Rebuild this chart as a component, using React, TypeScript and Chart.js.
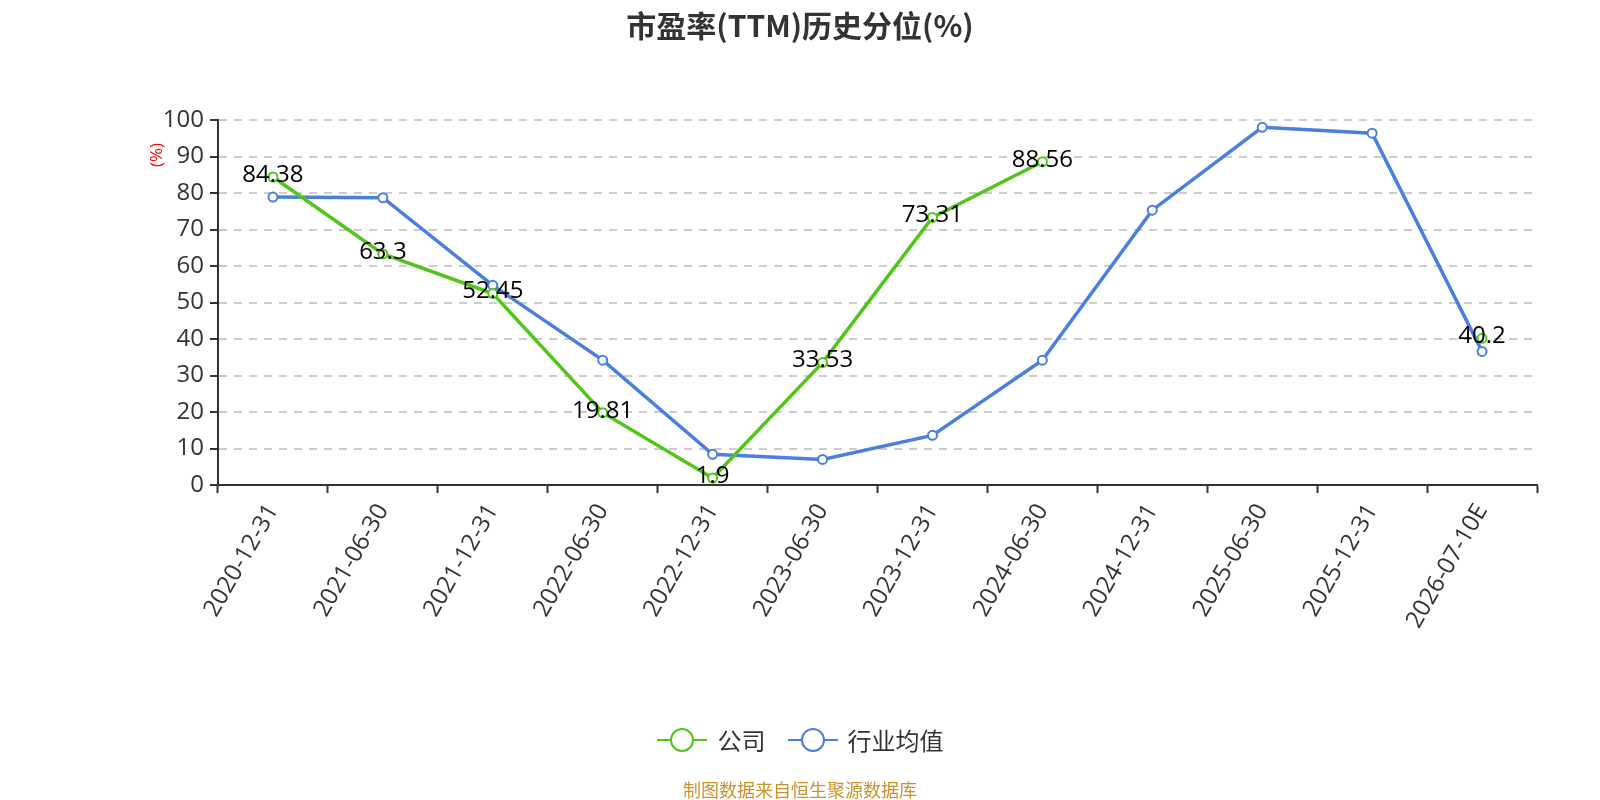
import { useEffect, useRef } from "react"
import { Chart, registerables } from "chart.js"

Chart.register(...registerables)

const categories = [
  "2020-12-31", "2021-06-30", "2021-12-31", "2022-06-30", "2022-12-31", "2023-06-30",
  "2023-12-31", "2024-06-30", "2024-12-31", "2025-06-30", "2025-12-31", "2026-07-10E",
]
const companyValues = [84.38, 63.3, 52.45, 19.81, 1.9, 33.53, 73.31, 88.56, null, null, null, 40.2]
const industryValues = [78.9, 78.7, 54.7, 34.2, 8.4, 7.0, 13.6, 34.2, 75.3, 98.0, 96.4, 36.6]
const yTicks = [0, 10, 20, 30, 40, 50, 60, 70, 80, 90, 100]

const GREEN = "#52C41A"
const BLUE = "#4A7FDE"
const FONT = "'Open Sans', 'Noto Sans CJK SC', sans-serif"
const CJK = "'Noto Sans CJK SC', sans-serif"

// value labels drawn centred on the points of the company line
const valueLabels = {
  id: "valueLabels",
  afterDatasetsDraw(chart) {
    const ctx = chart.ctx
    const meta = chart.getDatasetMeta(0)
    ctx.save()
    ctx.font = `24px ${FONT}`
    ctx.fillStyle = "#000"
    ctx.textAlign = "center"
    ctx.textBaseline = "middle"
    meta.data.forEach((pt, i) => {
      const v = companyValues[i]
      if (v == null) return
      ctx.fillText(String(v), pt.x, pt.y - 2)
    })
    ctx.restore()
  },
}

// red "(%)" unit near the top of the y axis
const unitLabel = {
  id: "unitLabel",
  afterDraw(chart) {
    const ctx = chart.ctx
    ctx.save()
    ctx.translate(157, 155)
    ctx.rotate(-Math.PI / 2)
    ctx.font = `17px ${FONT}`
    ctx.fillStyle = "#FF0000"
    ctx.textAlign = "center"
    ctx.textBaseline = "middle"
    ctx.fillText("(%)", 0, 0)
    ctx.restore()
  },
}

function LegendMark({ color }: { color: string }) {
  return (
    <svg width="50" height="26" style={{ verticalAlign: "middle" }}>
      <line x1="0" y1="13" x2="50" y2="13" stroke={color} strokeWidth="2" />
      <circle cx="25" cy="13" r="11" fill="#fff" stroke={color} strokeWidth="2" />
    </svg>
  )
}

export default function App() {
  const chartRef = useRef<HTMLCanvasElement>(null)
  const chartInstance = useRef<Chart | null>(null)

  useEffect(() => {
    if (chartInstance.current) chartInstance.current.destroy()
    if (!chartRef.current) return

    chartInstance.current = new Chart(chartRef.current, {
      type: "line",
      data: {
        labels: categories,
        datasets: [
          {
            label: "公司",
            data: companyValues,
            borderColor: GREEN,
            backgroundColor: "#fff",
            borderWidth: 3.5,
            pointRadius: 4.5,
            pointBorderWidth: 2,
            pointBackgroundColor: "#fff",
            pointBorderColor: GREEN,
            spanGaps: false,
          },
          {
            label: "行业均值",
            data: industryValues,
            borderColor: BLUE,
            backgroundColor: "#fff",
            borderWidth: 3.5,
            pointRadius: 4.5,
            pointBorderWidth: 2,
            pointBackgroundColor: "#fff",
            pointBorderColor: BLUE,
          },
        ],
      },
      options: {
        responsive: false,
        animation: false,
        layout: { padding: { top: 120, right: 63, left: 0, bottom: 0 } },
        plugins: {
          legend: { display: false },
          title: { display: false },
          tooltip: { enabled: false },
        },
        scales: {
          x: {
            offset: true,
            grid: {
              offset: true,
              drawOnChartArea: false,
              drawTicks: true,
              tickLength: 8,
              tickColor: "#333",
              tickWidth: 2,
            },
            border: { color: "#333", width: 2 },
            ticks: {
              color: "#333",
              font: { family: FONT, size: 24 },
              minRotation: 60,
              maxRotation: 60,
              padding: 6,
              autoSkip: false,
            },
            afterFit(scale) {
              scale.height = 315
            },
          },
          y: {
            min: 0,
            max: 100,
            afterBuildTicks(scale) {
              scale.ticks = yTicks.map((v) => ({ value: v }))
            },
            grid: {
              color: "#CCCCCC",
              lineWidth: 2,
              drawTicks: true,
              tickLength: 8,
              tickColor: "#333",
              tickWidth: 2,
            },
            border: { color: "#333", width: 2, dash: [8, 7] },
            ticks: {
              color: "#333",
              font: { family: FONT, size: 24 },
              padding: 6,
            },
            afterFit(scale) {
              scale.width = 218
            },
          },
        },
      },
      plugins: [valueLabels, unitLabel],
    })

    return () => {
      if (chartInstance.current) {
        chartInstance.current.destroy()
        chartInstance.current = null
      }
    }
  }, [])

  return (
    <div
      style={{
        position: "fixed",
        left: 0,
        top: 0,
        width: 1600,
        height: 800,
        background: "#fff",
        fontFamily: FONT,
      }}
    >
      <canvas ref={chartRef} width={1600} height={800} style={{ position: "absolute", left: 0, top: 0 }} />
      <div
        style={{
          position: "absolute",
          left: 0,
          width: 1600,
          top: 2,
          lineHeight: "44px",
          textAlign: "center",
          fontSize: 30,
          fontWeight: "bold",
          color: "#333",
          fontFamily: CJK,
        }}
      >
        市盈率(TTM)历史分位(%)
      </div>
      <div
        style={{
          position: "absolute",
          left: 0,
          width: 1600,
          top: 719,
          lineHeight: "36px",
          textAlign: "center",
          fontSize: 24,
          color: "#333",
          fontFamily: CJK,
          whiteSpace: "nowrap",
        }}
      >
        <span style={{ marginRight: 22 }}>
          <LegendMark color={GREEN} />
          <span style={{ verticalAlign: "middle", marginLeft: 11 }}>公司</span>
        </span>
        <span>
          <LegendMark color={BLUE} />
          <span style={{ verticalAlign: "middle", marginLeft: 10 }}>行业均值</span>
        </span>
      </div>
      <div
        style={{
          position: "absolute",
          left: 0,
          width: 1600,
          top: 776,
          lineHeight: "26px",
          textAlign: "center",
          fontSize: 18,
          color: "#C8922E",
          fontFamily: CJK,
        }}
      >
        制图数据来自恒生聚源数据库
      </div>
    </div>
  )
}
